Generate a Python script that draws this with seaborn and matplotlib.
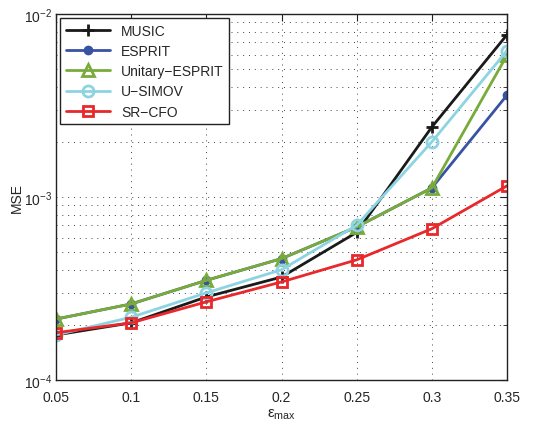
import pandas as pd
import matplotlib
matplotlib.use('Agg')
import matplotlib.pyplot as plt
import seaborn as sns
import numpy as np

eps_max = [0.05, 0.1, 0.15, 0.2, 0.25, 0.3, 0.35]
music = [1.76e-4, 2.05e-4, 2.84e-4, 3.65e-4, 6.4e-4, 2.41e-3, 7.7e-3]
esprit = [2.15e-4, 2.6e-4, 3.5e-4, 4.6e-4, 6.85e-4, 1.12e-3, 3.6e-3]
unitary_esprit = [2.15e-4, 2.6e-4, 3.5e-4, 4.6e-4, 6.85e-4, 1.12e-3, 5.95e-3]
u_simov = [1.76e-4, 2.2e-4, 2.99e-4, 4.0e-4, 7.0e-4, 2.0e-3, 6.3e-3]
sr_cfo = [1.81e-4, 2.05e-4, 2.67e-4, 3.43e-4, 4.53e-4, 6.7e-4, 1.15e-3]

series = {
    'MUSIC': music,
    'ESPRIT': esprit,
    'Unitary\u2212ESPRIT': unitary_esprit,
    'U\u2212SIMOV': u_simov,
    'SR\u2212CFO': sr_cfo,
}

# стиль каждой линии: цвет, маркер, заливка маркера, размер
styles = {
    'MUSIC': ('#1a1a1a', '+', True, 9),
    'ESPRIT': ('#3953a4', 'o', True, 5),
    'Unitary\u2212ESPRIT': ('#78ab3a', '^', False, 9),
    'U\u2212SIMOV': ('#8dd4e2', 'o', False, 8),
    'SR\u2212CFO': ('#e8282b', 's', False, 7),
}

df = pd.DataFrame({'eps': eps_max * len(series),
                   'mse': sum(series.values(), []),
                   'method': np.repeat(list(series.keys()), len(eps_max))})

sns.set_style('white')
plt.rcParams['font.family'] = ['Liberation Sans', 'DejaVu Sans']
plt.rcParams['mathtext.fontset'] = 'custom'
plt.rcParams['mathtext.rm'] = 'Liberation Sans'
plt.rcParams['mathtext.it'] = 'Liberation Sans'

fig = plt.figure(figsize=(5.44, 4.27), dpi=100)
ax = fig.add_axes([0.103, 0.108, 0.829, 0.857])

for name in series:
    color, marker, filled, ms = styles[name]
    sub = df[df['method'] == name]
    sns.lineplot(data=sub, x='eps', y='mse', ax=ax, color=color, linewidth=2,
                 marker=marker, markersize=ms, markeredgewidth=2,
                 markerfacecolor=color if filled else 'none',
                 markeredgecolor=color, label=name)

ax.set_yscale('log')
ax.set_ylim(1e-4, 1e-2)
ax.set_xlim(0.05, 0.35)
ax.set_xticks(eps_max)
ax.set_xticklabels(['0.05', '0.1', '0.15', '0.2', '0.25', '0.3', '0.35'])

# пунктирная сетка как в MATLAB
grid_kw = dict(linestyle=(0, (1, 5)), color='#444444', linewidth=0.7)
ax.grid(True, which='major', **grid_kw)
ax.grid(True, which='minor', axis='y', **grid_kw)
ax.tick_params(which='both', direction='in', top=True, right=True, labelsize=10, color='#222222')
ax.tick_params(which='major', length=5)
ax.tick_params(which='minor', length=3)
ax.tick_params(axis='x', pad=7)
ax.tick_params(axis='y', pad=3)
for s in ax.spines.values():
    s.set_color('#222222')
    s.set_linewidth(1)

ax.set_xlabel(r'$\epsilon_{\mathrm{max}}$', fontsize=11, labelpad=2)
ax.set_ylabel('MSE', fontsize=10, labelpad=0)

leg = ax.legend(loc='upper left', fontsize=10, frameon=True, fancybox=False,
                edgecolor='#222222', framealpha=1, borderaxespad=0.3,
                handlelength=3.2, labelspacing=0.45)
leg.get_frame().set_linewidth(1)

fig.savefig('out.png', dpi=100)
